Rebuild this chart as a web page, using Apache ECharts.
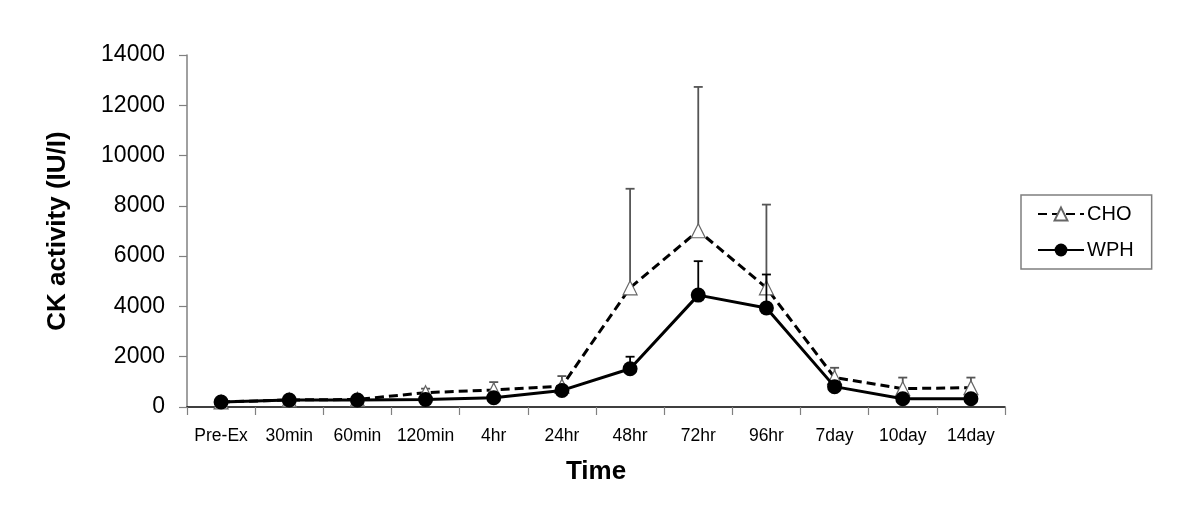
<!DOCTYPE html>
<html><head><meta charset="utf-8">
<script src="https://cdn.jsdelivr.net/npm/echarts@6/dist/echarts.min.js"></script>
<style>html,body{margin:0;padding:0;background:#fff}#c{width:1200px;height:520px}</style>
</head><body><div id="c"></div>
<script>
const categories = ['Pre-Ex','30min','60min','120min','4hr','24hr','48hr','72hr','96hr','7day','10day','14day'];
const choMean = [200, 280, 300, 570, 680, 830, 4740, 7010, 4740, 1170, 730, 770];
const choSD   = [40, 40, 40, 160, 310, 400, 3940, 5720, 3310, 390, 440, 400];
const wphMean = [200, 280, 280, 300, 370, 660, 1520, 4450, 3940, 810, 330, 330];
const wphSD   = [30, 30, 30, 40, 60, 80, 480, 1350, 1330, 100, 60, 60];
const yTicks = [0, 2000, 4000, 6000, 8000, 10000, 12000, 14000];

const font = 'Liberation Sans, Arial, sans-serif';

function errSeries(name, means, sds, color, z) {
  return {
    type: 'custom', name: name + '_err', z: z, silent: true,
    data: means.map((m, i) => [i, m, m + sds[i]]),
    renderItem: function (params, api) {
      const p0 = api.coord([api.value(0), api.value(1)]);
      const p1 = api.coord([api.value(0), api.value(2)]);
      const hw = 4.5;
      return {
        type: 'group',
        children: [
          { type: 'line', shape: { x1: p0[0], y1: p0[1], x2: p1[0], y2: p1[1] }, style: { stroke: color, lineWidth: 1.8 } },
          { type: 'line', shape: { x1: p1[0] - hw, y1: p1[1], x2: p1[0] + hw, y2: p1[1] }, style: { stroke: color, lineWidth: 1.8 } }
        ]
      };
    }
  };
}

const chart = echarts.init(document.getElementById('c'));
chart.setOption({
  animation: false,
  backgroundColor: '#fff',
  grid: { left: 187, right: 195, top: 55, bottom: 113, containLabel: false },
  legend: {
    orient: 'vertical', left: 1021, top: 195,
    data: ['CHO', 'WPH'],
    itemWidth: 46, itemHeight: 16, itemGap: 16,
    padding: [9, 18, 9, 16],
    borderColor: '#7f7f7f', borderWidth: 1.5,
    textStyle: { fontFamily: font, fontSize: 20, color: '#000', padding: [0, 0, 0, -2] }
  },
  xAxis: {
    type: 'category', data: categories, boundaryGap: true,
    name: 'Time', nameLocation: 'middle', nameGap: 52,
    nameTextStyle: { fontFamily: font, fontSize: 26, fontWeight: 'bold', color: '#000' },
    axisLine: { lineStyle: { color: '#000', width: 1.5 } },
    axisTick: { show: true, interval: 0, alignWithLabel: false, length: 8, lineStyle: { color: '#808080', width: 1.2 } },
    axisLabel: { interval: 0, fontFamily: font, fontSize: 17.5, color: '#000', margin: 20 },
    splitLine: { show: false }
  },
  yAxis: {
    type: 'value', min: 0, max: 14000, interval: 2000,
    name: 'CK activity (IU/I)', nameLocation: 'middle', nameGap: 116, nameRotate: 90,
    nameTextStyle: { fontFamily: font, fontSize: 26, fontWeight: 'bold', color: '#000' },
    axisLine: { show: true, lineStyle: { color: '#808080', width: 1.5 } },
    axisTick: { show: true, length: 8, lineStyle: { color: '#808080', width: 1.2 } },
    axisLabel: { fontFamily: font, fontSize: 23, color: '#000', margin: 22,
      formatter: v => yTicks.indexOf(v) >= 0 ? String(v) : '' },
    splitLine: { show: false }
  },
  series: [
    errSeries('CHO', choMean, choSD, '#555', 1),
    errSeries('WPH', wphMean, wphSD, '#000', 3),
    {
      name: 'CHO', type: 'line', data: choMean, z: 2,
      symbol: 'triangle', symbolSize: 14,
      itemStyle: { color: '#fff', borderColor: '#666', borderWidth: 1.2 },
      lineStyle: { color: '#000', width: 3, type: [9, 5] }
    },
    {
      name: 'WPH', type: 'line', data: wphMean, z: 4,
      symbol: 'circle', symbolSize: 15,
      itemStyle: { color: '#000', borderColor: '#000', borderWidth: 0 },
      lineStyle: { color: '#000', width: 3 }
    }
  ]
});
</script></body></html>
